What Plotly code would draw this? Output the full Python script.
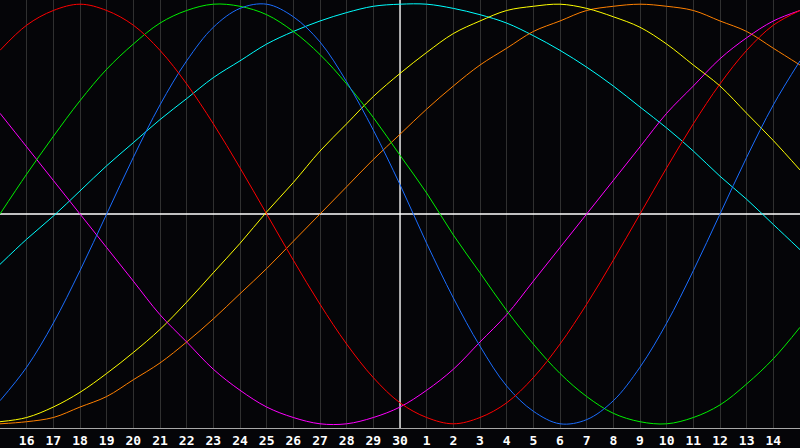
import plotly.graph_objects as go

# Day labels along the chart (position 0 .. 30)
days = ["15", "16", "17", "18", "19", "20", "21", "22", "23", "24", "25", "26", "27", "28", "29", "30",
        "1", "2", "3", "4", "5", "6", "7", "8", "9", "10", "11", "12", "13", "14", "15"]
today_label = "30"

red = [0.78, 0.90, 0.97, 1.00, 0.97, 0.90, 0.78, 0.62, 0.43, 0.22, 0.00, -0.22, -0.43, -0.62, -0.78, -0.90,
       -0.97, -1.00, -0.97, -0.90, -0.78, -0.62, -0.43, -0.22, 0.00, 0.22, 0.43, 0.62, 0.78, 0.90, 0.97]
green = [0.00, 0.19, 0.37, 0.54, 0.69, 0.81, 0.91, 0.97, 1.00, 0.99, 0.95, 0.87, 0.76, 0.62, 0.46, 0.28,
         0.10, -0.10, -0.28, -0.46, -0.62, -0.76, -0.87, -0.95, -0.99, -1.00, -0.97, -0.91, -0.81, -0.69, -0.54]
blue = [-0.89, -0.73, -0.52, -0.27, 0.00, 0.27, 0.52, 0.73, 0.89, 0.98, 1.00, 0.94, 0.82, 0.63, 0.40, 0.14,
        -0.14, -0.40, -0.63, -0.82, -0.94, -1.00, -0.98, -0.89, -0.73, -0.52, -0.27, 0.00, 0.27, 0.52, 0.73]
cyan = [-0.24, -0.12, -0.01, 0.11, 0.23, 0.34, 0.45, 0.55, 0.65, 0.73, 0.81, 0.87, 0.92, 0.96, 0.99, 1.00,
        1.00, 0.98, 0.95, 0.91, 0.85, 0.78, 0.70, 0.61, 0.51, 0.41, 0.30, 0.18, 0.07, -0.05, -0.17]
yellow = [-0.99, -0.97, -0.92, -0.85, -0.76, -0.66, -0.55, -0.42, -0.28, -0.14, 0.01, 0.15, 0.30, 0.43, 0.56, 0.67,
          0.77, 0.86, 0.92, 0.97, 0.99, 1.00, 0.98, 0.94, 0.89, 0.81, 0.71, 0.61, 0.48, 0.35, 0.21]
orange = [-1.00, -0.99, -0.97, -0.92, -0.87, -0.79, -0.71, -0.61, -0.50, -0.38, -0.26, -0.13, 0.00, 0.13, 0.26, 0.38,
          0.50, 0.61, 0.71, 0.79, 0.87, 0.92, 0.97, 0.99, 1.00, 0.99, 0.97, 0.92, 0.87, 0.79, 0.71]
magenta = [0.48, 0.32, 0.16, 0.00, -0.16, -0.32, -0.48, -0.61, -0.74, -0.84, -0.92, -0.97, -1.00, -1.00, -0.97, -0.92,
           -0.84, -0.74, -0.61, -0.48, -0.32, -0.16, 0.00, 0.16, 0.32, 0.48, 0.61, 0.74, 0.84, 0.92, 0.97]

series = [
    ("cyan", cyan, "#00ffff"),
    ("orange", orange, "#ff8000"),
    ("yellow", yellow, "#ffff00"),
    ("magenta", magenta, "#ff00ff"),
    ("green", green, "#00f000"),
    ("blue", blue, "#1a6dff"),
    ("red", red, "#ff0000"),
]

x = list(range(len(days)))
tick_pos = x[1:-1]
tick_txt = days[1:-1]
today_x = days.index(today_label)

fig = go.Figure()
for name, vals, col in series:
    fig.add_trace(go.Scatter(x=x, y=vals, mode="lines", name=name,
                             line=dict(color=col, width=1, shape="spline"),
                             hoverinfo="skip"))

bg = "#050508"
fig.update_layout(
    width=800, height=448,
    margin=dict(l=0, r=0, t=0, b=20),
    paper_bgcolor=bg, plot_bgcolor=bg,
    showlegend=False,
    xaxis=dict(range=[x[0], x[-1]], tickmode="array", tickvals=tick_pos, ticktext=tick_txt,
               showgrid=True, gridcolor="#303030", gridwidth=1, zeroline=False,
               showline=True, linecolor="#a8a8a8", linewidth=1, mirror=True,
               ticks="", ticklen=0,
               tickfont=dict(family="DejaVu Sans Mono", size=13, color="#ffffff", weight="bold")),
    yaxis=dict(range=[-1.02, 1.02], showgrid=False, zeroline=False, showticklabels=False,
               showline=True, linecolor="#a8a8a8", linewidth=1, mirror=True, ticks=""),
)
fig.add_shape(type="line", x0=x[0], x1=x[-1], y0=0, y1=0, xref="x", yref="y",
              line=dict(color="#ffffff", width=1.3), layer="between")
fig.add_shape(type="line", x0=today_x, x1=today_x, y0=-1.02, y1=1.02, xref="x", yref="y",
              line=dict(color="#ffffff", width=1.3), layer="between")

fig.write_html("out.html", config={"displayModeBar": False, "staticPlot": True})

# remove the default page margin so the figure fills the window
with open("out.html", "r", encoding="utf-8") as f:
    html = f.read()
html = html.replace("<head>", "<head><style>html,body{margin:0;padding:0;overflow:hidden;background:#050508;}</style>", 1)
with open("out.html", "w", encoding="utf-8") as f:
    f.write(html)
